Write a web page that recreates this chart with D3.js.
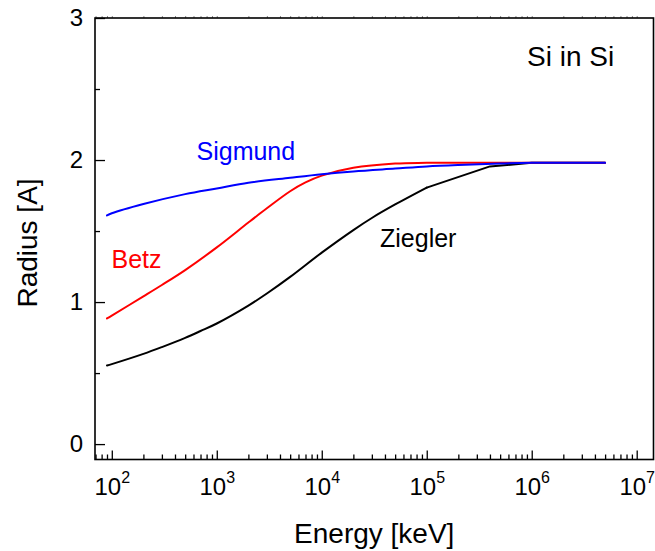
<!DOCTYPE html>
<html>
<head>
<meta charset="utf-8">
<script src="https://cdn.jsdelivr.net/npm/d3@7"></script>
<style>
  body { margin: 0; background: #fff; }
  svg { display: block; font-family: "Liberation Sans", Arial, sans-serif; }
</style>
</head>
<body>
<div id="chart"></div>
<script>
// energies in keV, radius in Angstrom
const sigmundE = [90, 100, 200, 500, 1e3, 2e3, 5e3, 1e4, 2e4, 5e4, 1e5, 2e5, 5e5, 1e6, 5e6];
const sigmundR = [1.61, 1.625, 1.69, 1.76, 1.80, 1.84, 1.875, 1.90, 1.92, 1.94, 1.955, 1.965, 1.975, 1.98, 1.98];

const betzE = [90, 100, 200, 300, 500, 1e3, 2e3, 3e3, 5e3, 7e3, 1e4, 2e4, 5e4, 1e5, 1e6, 5e6];
const betzR = [0.885, 0.905, 1.04, 1.12, 1.225, 1.385, 1.56, 1.66, 1.78, 1.842, 1.89, 1.945, 1.975, 1.98, 1.98, 1.98];

// Ziegler is smooth up to 1e5 keV, then straight segments
const zieglerE = [90, 100, 200, 300, 500, 700, 1e3, 2e3, 3e3, 5e3, 1e4, 2e4, 3e4, 5e4, 1e5, 4e5, 1e6, 5e6];
const zieglerR = [0.553, 0.563, 0.635, 0.683, 0.748, 0.796, 0.849, 0.975, 1.06, 1.177, 1.348, 1.507, 1.592, 1.687, 1.806, 1.955, 1.98, 1.98];
const zieglerKnee = 1e5;

const xMajor = [1e2, 1e3, 1e4, 1e5, 1e6, 1e7];
const yMajor = [0, 1, 2, 3];
const yMinor = [0.5, 1.5, 2.5];

const width = 655, height = 551;
const mLeft = 95, mRight = 653.5, mTop = 18, mBottom = 459.5;

const svg = d3.select("#chart").append("svg")
    .attr("width", width)
    .attr("height", height);

const x = d3.scaleLog()
    .domain([Math.pow(10, 1.84), Math.pow(10, 7.16)])
    .range([mLeft, mRight]);

const y = d3.scaleLinear()
    .domain([-0.1085, 3])
    .range([mBottom, mTop]);

// minor ticks for the log axis
const xMinor = [];
for (let p = 1; p <= 7; p++) {
    for (let m = 2; m <= 9; m++) {
        const v = m * Math.pow(10, p);
        if (v > x.domain()[0] && v < x.domain()[1]) xMinor.push(v);
    }
}

// bottom axis: minor ticks
svg.append("g")
    .attr("transform", `translate(0,${mBottom})`)
    .call(d3.axisBottom(x).tickValues(xMinor).tickSize(-5).tickSizeOuter(0).tickFormat(""))
    .call(g => g.select(".domain").remove())
    .call(g => g.selectAll("line").attr("stroke-width", 1.3));

// bottom axis: major ticks with 10^n labels
svg.append("g")
    .attr("transform", `translate(0,${mBottom})`)
    .call(d3.axisBottom(x).tickValues(xMajor).tickSize(-9).tickSizeOuter(0).tickFormat(""))
    .call(g => g.select(".domain").remove())
    .call(g => g.selectAll("line").attr("stroke-width", 1.3))
    .call(g => g.selectAll(".tick text").remove())
    .call(g => {
        const t = g.selectAll(".tick").append("text")
            .attr("y", 35.5)
            .attr("fill", "#000")
            .attr("font-size", 24)
            .attr("text-anchor", "middle");
        t.append("tspan").text("10");
        t.append("tspan")
            .attr("font-size", 16)
            .attr("dy", -12)
            .text(d => Math.round(Math.log10(d)));
    });

// top axis: tiny marks
svg.append("g")
    .attr("transform", `translate(0,${mTop})`)
    .call(d3.axisTop(x).tickValues(xMinor.concat(xMajor)).tickSize(2).tickSizeOuter(0).tickFormat(""))
    .call(g => g.select(".domain").remove())
    .call(g => g.selectAll("line").attr("stroke", "#888"));

// left axis
svg.append("g")
    .attr("transform", `translate(${mLeft},0)`)
    .call(d3.axisLeft(y).tickValues(yMinor).tickSize(-5).tickSizeOuter(0).tickFormat(""))
    .call(g => g.select(".domain").remove())
    .call(g => g.selectAll("line").attr("stroke-width", 1.3));

svg.append("g")
    .attr("transform", `translate(${mLeft},0)`)
    .call(d3.axisLeft(y).tickValues(yMajor).tickSize(-10).tickSizeOuter(0).tickPadding(12).tickFormat(d3.format("d")))
    .call(g => g.select(".domain").remove())
    .call(g => g.selectAll("line").attr("stroke-width", 1.3))
    .call(g => g.selectAll("text").attr("font-size", 24).attr("fill", "#000")
        .attr("font-family", "Liberation Sans, Arial, sans-serif"));

// frame
svg.append("rect")
    .attr("x", mLeft)
    .attr("y", mTop)
    .attr("width", mRight - mLeft)
    .attr("height", mBottom - mTop)
    .attr("fill", "none")
    .attr("stroke", "#000")
    .attr("stroke-width", 1.6);

// curves
const smooth = d3.line()
    .x(d => x(d[0]))
    .y(d => y(d[1]))
    .curve(d3.curveCatmullRom.alpha(0.5));

const straight = d3.line()
    .x(d => x(d[0]))
    .y(d => y(d[1]));

function drawPath(points, color, gen) {
    svg.append("path")
        .datum(points)
        .attr("fill", "none")
        .attr("stroke", color)
        .attr("stroke-width", 2)
        .attr("stroke-linejoin", "round")
        .attr("stroke-linecap", "round")
        .attr("d", gen);
}

const zPts = zieglerE.map((e, i) => [e, zieglerR[i]]);
drawPath(zPts.filter(d => d[0] <= zieglerKnee), "#000000", smooth);
drawPath(zPts.filter(d => d[0] >= zieglerKnee), "#000000", straight);
drawPath(betzE.map((e, i) => [e, betzR[i]]), "#ff0000", smooth);
drawPath(sigmundE.map((e, i) => [e, sigmundR[i]]), "#0000ff", smooth);

// curve labels
svg.append("text").attr("x", 196.5).attr("y", 160).attr("font-size", 25)
    .attr("fill", "#0000ff").text("Sigmund");
svg.append("text").attr("x", 111.5).attr("y", 267.5).attr("font-size", 25)
    .attr("fill", "#ff0000").text("Betz");
svg.append("text").attr("x", 380).attr("y", 247).attr("font-size", 25)
    .attr("fill", "#000").text("Ziegler");
svg.append("text").attr("x", 527).attr("y", 65.5).attr("font-size", 28)
    .attr("fill", "#000").text("Si in Si");

// axis titles
svg.append("text")
    .attr("x", (mLeft + mRight) / 2)
    .attr("y", 543)
    .attr("text-anchor", "middle")
    .attr("font-size", 28)
    .text("Energy [keV]");

svg.append("text")
    .attr("transform", `translate(37,243) rotate(-90)`)
    .attr("text-anchor", "middle")
    .attr("font-size", 28)
    .text("Radius [A]");
</script>
</body>
</html>
